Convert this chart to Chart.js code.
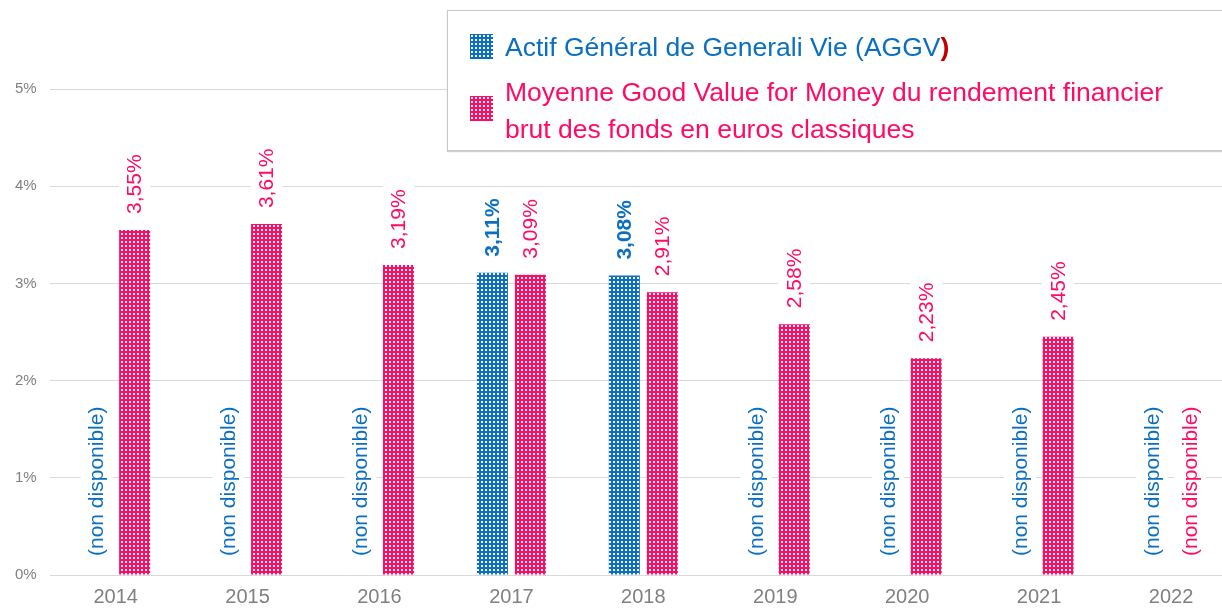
<!DOCTYPE html>
<html>
<head>
<meta charset="utf-8">
<script src="https://cdn.jsdelivr.net/npm/chart.js@4/dist/chart.umd.min.js"></script>
<style>
  body { margin: 0; overflow: hidden; background: #fff; font-family: "Liberation Sans", Arial, sans-serif; }
  #wrap { position: relative; width: 1238px; height: 619px; }
  #legend {
    position: absolute; left: 447px; top: 10px; width: 800px; height: 139px;
    background: #fff; border: 1px solid #c8c8c8; box-shadow: 0 1px 1px #d0d0d0;
    font-size: 26.5px;
  }
  .item { position: absolute; left: 57px; line-height: 37px; white-space: nowrap; }
  .swatch { position: absolute; }
</style>
</head>
<body>
<div id="wrap">
  <canvas id="chart"></canvas>
  <div id="legend"></div>
</div>
<script>
const years = ["2014", "2015", "2016", "2017", "2018", "2019", "2020", "2021", "2022"];
const aggvValues = [null, null, null, 3.11, 3.08, null, null, null, null];
const gvfmValues = [3.55, 3.61, 3.19, 3.09, 2.91, 2.58, 2.23, 2.45, null];
const yTicks = [0, 1, 2, 3, 4, 5];
const seriesNames = [
  "Actif Général de Generali Vie (AGGV)",
  "Moyenne Good Value for Money du rendement financier brut des fonds en euros classiques"
];
const seriesColors = ["#0a6fc2", "#ff0a64"];
const missingText = "(non disponible)";

function makePattern(color) {
  const c = document.createElement("canvas");
  c.width = 4;
  c.height = 4;
  const g = c.getContext("2d");
  g.fillStyle = color;
  g.fillRect(0, 0, 4, 4);
  g.fillStyle = "#fff";
  g.fillRect(1, 1, 2, 2);
  return g.createPattern(c, "repeat");
}

const labelPlugin = {
  id: "barLabels",
  afterDatasetsDraw(chart) {
    const ctx = chart.ctx;
    const y0 = chart.scales.y.getPixelForValue(0);
    chart.data.datasets.forEach(function(ds, di) {
      const meta = chart.getDatasetMeta(di);
      meta.data.forEach(function(bar, j) {
        const v = ds.data[j];
        let text, start, bold;
        if (v == null) {
          text = missingText;
          start = y0 - 19;
          bold = false;
        } else {
          text = v.toFixed(2).replace(".", ",") + "%";
          start = bar.y - 16;
          bold = di === 0;
        }
        ctx.save();
        ctx.font = (bold ? "bold " : "") + "21px 'Liberation Sans', Arial, sans-serif";
        ctx.translate(bar.x, start);
        ctx.rotate(-Math.PI / 2);
        const w = ctx.measureText(text).width;
        ctx.fillStyle = "#fff";
        ctx.fillRect(-5, -16, w + 10, 32);
        ctx.fillStyle = seriesColors[di];
        ctx.textAlign = "left";
        ctx.textBaseline = "middle";
        ctx.fillText(text, 0, 1);
        ctx.restore();
      });
    });
  }
};

const chart = new Chart(document.getElementById("chart"), {
  type: "bar",
  data: {
    labels: years,
    datasets: [{
      label: seriesNames[0],
      data: aggvValues,
      backgroundColor: makePattern(seriesColors[0])
    }, {
      label: seriesNames[1],
      data: gvfmValues,
      backgroundColor: makePattern(seriesColors[1])
    }]
  },
  options: {
    responsive: true,
    maintainAspectRatio: false,
    animation: false,
    categoryPercentage: 0.576,
    barPercentage: 0.816,
    layout: { padding: { top: 89, left: 2, right: 1, bottom: 0 } },
    plugins: {
      legend: { display: false },
      tooltip: { enabled: false }
    },
    scales: {
      x: {
        grid: { display: false, drawTicks: false },
        border: { display: false },
        ticks: {
          color: "#808080",
          padding: 10,
          font: { size: 20, family: "'Liberation Sans', Arial, sans-serif" }
        }
      },
      y: {
        min: 0,
        max: 5,
        afterBuildTicks: function(scale) {
          scale.ticks = yTicks.map(function(v) { return { value: v }; });
        },
        grid: { color: "#d9d9d9", lineWidth: 1, drawTicks: false },
        border: { display: false },
        ticks: {
          color: "#808080",
          padding: 13,
          font: { size: 15, family: "'Liberation Sans', Arial, sans-serif" },
          callback: function(v) { return v + "%"; }
        }
      }
    }
  },
  plugins: [labelPlugin]
});

// legend built from the dataset names
const legend = document.getElementById("legend");
seriesNames.forEach(function(name, i) {
  const sw = document.createElement("canvas");
  sw.width = 23;
  sw.height = 25;
  sw.className = "swatch";
  sw.style.left = "22px";
  sw.style.top = (i === 0 ? 23 : 85) + "px";
  const g = sw.getContext("2d");
  g.fillStyle = makePattern(seriesColors[i]);
  g.fillRect(0, 0, 23, 25);
  legend.appendChild(sw);

  const item = document.createElement("div");
  item.className = "item";
  item.style.color = seriesColors[i];
  if (i === 0) {
    item.style.top = "18px";
    item.textContent = name.slice(0, -1);
    const p = document.createElement("span");
    p.style.color = "#c00000";
    p.style.fontWeight = "bold";
    p.textContent = name.slice(-1);
    item.appendChild(p);
  } else {
    item.style.top = "63px";
    const words = name.split(" ");
    item.appendChild(document.createTextNode(words.slice(0, 8).join(" ")));
    item.appendChild(document.createElement("br"));
    item.appendChild(document.createTextNode(words.slice(8).join(" ")));
  }
  legend.appendChild(item);
});
</script>
</body>
</html>
